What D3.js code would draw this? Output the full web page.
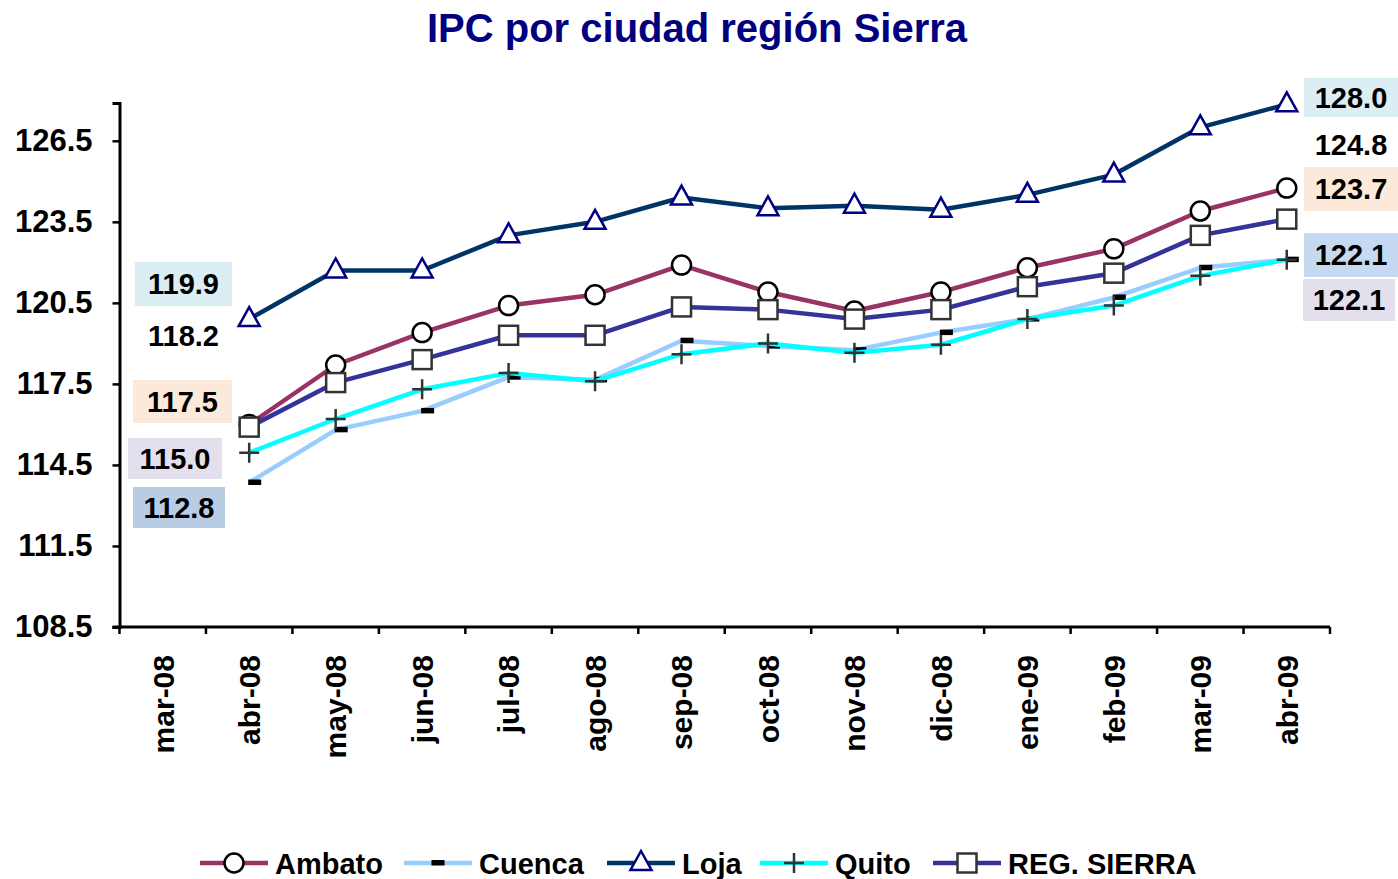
<!DOCTYPE html>
<html>
<head>
<meta charset="utf-8">
<script src="https://cdn.jsdelivr.net/npm/d3@7"></script>
<style>
  body { margin: 0; background: #fff; }
  svg { font-family: "Liberation Sans", Arial, sans-serif; font-weight: bold; }
</style>
</head>
<body>
<div id="chart"></div>
<script>
const months = ["mar-08", "abr-08", "may-08", "jun-08", "jul-08", "ago-08", "sep-08",
  "oct-08", "nov-08", "dic-08", "ene-09", "feb-09", "mar-09", "abr-09"];

const ambato = [null, 116.0, 118.2, 119.4, 120.4, 120.8, 121.9, 120.9, 120.2, 120.9, 121.8, 122.5, 123.9, 124.75];
const cuenca = [null, 113.85, 115.8, 116.5, 117.75, 117.65, 119.1, 118.9, 118.75, 119.4, 119.9, 120.7, 121.8, 122.1];
const loja = [null, 119.9, 121.7, 121.7, 123.0, 123.5, 124.4, 124.0, 124.1, 123.95, 124.5, 125.25, 127.0, 127.85];
const quito = [null, 114.95, 116.2, 117.3, 117.9, 117.6, 118.6, 119.0, 118.65, 118.95, 119.9, 120.4, 121.5, 122.1];
const sierra = [null, 115.9, 117.55, 118.4, 119.3, 119.3, 120.35, 120.25, 119.9, 120.25, 121.1, 121.6, 123.0, 123.6];

const yTicks = [108.5, 111.5, 114.5, 117.5, 120.5, 123.5, 126.5];

// etiquetas de texto tal como aparecen en el gráfico
const leftLabels = ["119.9", "118.2", "117.5", "115.0", "112.8"];
const rightLabels = ["128.0", "124.8", "123.7", "122.1", "122.1"];

const width = 1398, height = 879;
const margin = { top: 103, right: 68, bottom: 252, left: 119.5 };

const series = [
  { name: "Ambato", values: ambato, color: "#993366", marker: "circle" },
  { name: "Cuenca", values: cuenca, color: "#99CCFF", marker: "dash" },
  { name: "Loja", values: loja, color: "#003366", marker: "triangle" },
  { name: "Quito", values: quito, color: "#00FFFF", marker: "plus" },
  { name: "REG. SIERRA", values: sierra, color: "#333399", marker: "square" }
];

const svg = d3.select("#chart").append("svg")
  .attr("width", width).attr("height", height);

const x = d3.scaleBand()
  .domain(months)
  .range([margin.left, width - margin.right])
  .padding(0);

const y = d3.scaleLinear()
  .domain([108.5, 127.9])
  .range([height - margin.bottom, margin.top]);

// título
svg.append("text")
  .attr("x", 697).attr("y", 42)
  .attr("text-anchor", "middle")
  .attr("font-size", 40)
  .attr("fill", "#000080")
  .text("IPC por ciudad región Sierra");

// eje Y
const yAxis = svg.append("g")
  .attr("transform", `translate(${margin.left},0)`)
  .call(d3.axisLeft(y).tickValues(yTicks).tickFormat(d3.format(".1f")).tickSize(7).tickPadding(20));
yAxis.select(".domain").attr("stroke", "#000").attr("stroke-width", 3);
yAxis.selectAll(".tick line").attr("stroke", "#000").attr("stroke-width", 2.5);
yAxis.selectAll(".tick text")
  .attr("font-size", 31).attr("font-family", "Liberation Sans, Arial, sans-serif")
  .attr("font-weight", "bold").attr("fill", "#000");

// eje X (marcas entre categorías)
const xAxisG = svg.append("g")
  .attr("transform", `translate(0,${height - margin.bottom})`);
xAxisG.append("line")
  .attr("x1", margin.left - 7).attr("x2", width - margin.right)
  .attr("stroke", "#000").attr("stroke-width", 3);
const boundaries = months.map(m => x(m)).concat([x(months[months.length - 1]) + x.bandwidth()]);
xAxisG.selectAll(".tk")
  .data(boundaries)
  .join("line")
  .attr("x1", d => d).attr("x2", d => d)
  .attr("y1", 0).attr("y2", 7)
  .attr("stroke", "#000").attr("stroke-width", 2.5);
xAxisG.selectAll(".lbl")
  .data(months)
  .join("text")
  .attr("transform", d => `translate(${x(d) + x.bandwidth() / 2},28) rotate(-90)`)
  .attr("text-anchor", "end")
  .attr("dy", "0.36em")
  .attr("font-size", 30)
  .attr("fill", "#000")
  .text(d => d);

const cx = i => x(months[i]) + x.bandwidth() / 2;

function drawMarker(g, type, px, py, legend) {
  if (type === "circle") {
    g.append("circle").attr("cx", px).attr("cy", py).attr("r", 9.5)
      .attr("fill", "#fff").attr("stroke", "#000").attr("stroke-width", 2.5);
  } else if (type === "square") {
    g.append("rect").attr("x", px - 9.5).attr("y", py - 9.5).attr("width", 19).attr("height", 19)
      .attr("fill", "#fff").attr("stroke", "#333").attr("stroke-width", 2.5);
  } else if (type === "triangle") {
    const p = [[px, py - 12], [px + 10.5, py + 7], [px - 10.5, py + 7]];
    g.append("path").attr("d", "M" + p.join("L") + "Z")
      .attr("fill", "#fff").attr("stroke", "#000080").attr("stroke-width", 2.5);
  } else if (type === "plus") {
    g.append("path").attr("d", `M${px - 10},${py}H${px + 10}M${px},${py - 10}V${py + 10}`)
      .attr("stroke", "#333").attr("stroke-width", 2.5);
  } else if (type === "dash") {
    const ox = legend ? -6.5 : -1;
    g.append("rect").attr("x", px + ox).attr("y", py - 3).attr("width", 13).attr("height", 5.5)
      .attr("fill", "#000");
  }
}

const line = d3.line()
  .defined(d => d != null)
  .x((d, i) => cx(i))
  .y(d => y(d));

series.forEach(s => {
  const g = svg.append("g");
  g.append("path")
    .datum(s.values)
    .attr("d", line)
    .attr("fill", "none")
    .attr("stroke", s.color)
    .attr("stroke-width", 4.5)
    .attr("stroke-linejoin", "round");
  s.values.forEach((v, i) => {
    if (v != null) drawMarker(g, s.marker, cx(i), y(v), false);
  });
});

// etiquetas con fondo
const leftBoxes = [
  { x: 135, y: 262, w: 97, h: 44, bg: "#DAEEF3" },
  { x: 135, y: 314, w: 97, h: 44, bg: "none" },
  { x: 133, y: 380, w: 99, h: 43, bg: "#FDE9D9" },
  { x: 128, y: 438, w: 94, h: 41, bg: "#E4DFEC" },
  { x: 133, y: 487, w: 92, h: 41, bg: "#B8CCE4" }
];
const rightBoxes = [
  { x: 1304, y: 78, w: 94, h: 39, bg: "#DAEEF3" },
  { x: 1304, y: 125, w: 94, h: 40, bg: "none" },
  { x: 1304, y: 167, w: 94, h: 44, bg: "#FDE9D9" },
  { x: 1304, y: 233, w: 94, h: 44, bg: "#C5D9F1" },
  { x: 1303, y: 279, w: 92, h: 42, bg: "#E4DFEC" }
];

function drawLabels(labels, boxes) {
  labels.forEach((t, i) => {
    const b = boxes[i];
    if (b.bg !== "none") {
      svg.append("rect").attr("x", b.x).attr("y", b.y).attr("width", b.w).attr("height", b.h)
        .attr("fill", b.bg);
    }
    svg.append("text")
      .attr("x", b.x + b.w / 2).attr("y", b.y + b.h / 2)
      .attr("dy", "0.36em")
      .attr("text-anchor", "middle")
      .attr("font-size", 29)
      .attr("fill", "#000")
      .text(t);
  });
}
drawLabels(leftLabels, leftBoxes);
drawLabels(rightLabels, rightBoxes);

// leyenda
const legendPos = [200, 404, 607, 760, 933];
const legend = svg.append("g").attr("transform", "translate(0,863)");
series.forEach((s, i) => {
  const lx = legendPos[i];
  legend.append("line")
    .attr("x1", lx).attr("x2", lx + 68)
    .attr("stroke", s.color).attr("stroke-width", 4.5);
  drawMarker(legend, s.marker, lx + 34, 0, true);
  legend.append("text")
    .attr("x", lx + 75).attr("y", 11)
    .attr("font-size", 29)
    .attr("fill", "#000")
    .text(s.name);
});
</script>
</body>
</html>
